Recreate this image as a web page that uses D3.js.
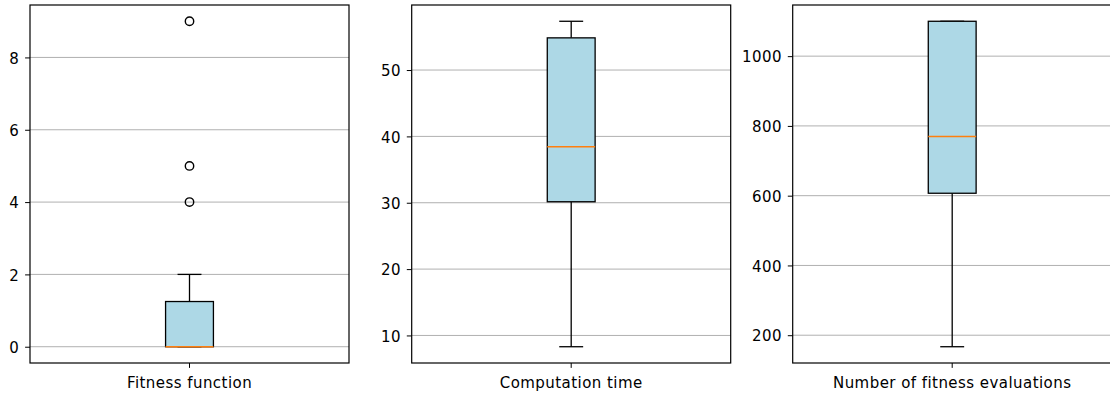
<!DOCTYPE html>
<html>
<head>
<meta charset="utf-8">
<script src="https://cdn.jsdelivr.net/npm/d3@7"></script>
<style>
  body { margin: 0; background: #fff; }
  text { font-family: 'DejaVu Sans', sans-serif; font-size: 15px; fill: #000; letter-spacing: 0.45px; }
</style>
</head>
<body>
<svg id="chart" width="1110" height="394"></svg>
<script>
// data: one box per panel
let categories = ['Fitness function', 'Computation time', 'Number of fitness evaluations']
let whiskerLow = [0, 8.3, 167]
let q1 = [0, 30.15, 607]
let median = [0, 38.45, 770]
let q3 = [1.25, 54.85, 1100]
let whiskerHigh = [2, 57.35, 1100]
let outliers = [[4, 5, 9], [], []]
let tickValues = [[0, 2, 4, 6, 8], [10, 20, 30, 40, 50], [200, 400, 600, 800, 1000]]

let panelLeft = [30, 411.7, 792.7]
let panelWidth = 319
let plotTop = 5
let plotBottom = 363
let tickLen = 4.9

let svg = d3.select('#chart')

categories.forEach((cat, i) => {
  let lo = Math.min(whiskerLow[i], ...outliers[i])
  let hi = Math.max(whiskerHigh[i], ...outliers[i])
  let pad = (hi - lo) * 0.05
  let y = d3.scaleLinear().domain([lo - pad, hi + pad]).range([plotBottom, plotTop])
  let x = d3.scaleBand().domain([cat]).range([0, panelWidth])

  let g = svg.append('g').attr('transform', 'translate(' + panelLeft[i] + ',0)')

  // grid
  g.append('g').selectAll('line').data(tickValues[i]).enter().append('line')
    .attr('x1', 0).attr('x2', panelWidth)
    .attr('y1', d => y(d)).attr('y2', d => y(d))
    .attr('stroke', '#b0b0b0').attr('stroke-width', 1)

  let cx = x(cat) + x.bandwidth() / 2
  let boxW = panelWidth * 0.15
  let capW = boxW / 2

  // whiskers
  g.append('line').attr('x1', cx).attr('x2', cx)
    .attr('y1', y(q1[i])).attr('y2', y(whiskerLow[i]))
    .attr('stroke', '#000').attr('stroke-width', 1.3)
  g.append('line').attr('x1', cx).attr('x2', cx)
    .attr('y1', y(q3[i])).attr('y2', y(whiskerHigh[i]))
    .attr('stroke', '#000').attr('stroke-width', 1.3)
  // caps
  ;[whiskerLow[i], whiskerHigh[i]].forEach(v => {
    g.append('line').attr('x1', cx - capW / 2).attr('x2', cx + capW / 2)
      .attr('y1', y(v)).attr('y2', y(v))
      .attr('stroke', '#000').attr('stroke-width', 1.3)
  })
  // box
  g.append('rect')
    .attr('x', cx - boxW / 2).attr('width', boxW)
    .attr('y', y(q3[i])).attr('height', Math.max(0, y(q1[i]) - y(q3[i])))
    .attr('fill', '#add8e6').attr('stroke', '#000').attr('stroke-width', 1.3)
  // median
  g.append('line').attr('x1', cx - boxW / 2).attr('x2', cx + boxW / 2)
    .attr('y1', y(median[i])).attr('y2', y(median[i]))
    .attr('stroke', '#ff7f0e').attr('stroke-width', 1.5)
  // fliers
  g.append('g').selectAll('circle').data(outliers[i]).enter().append('circle')
    .attr('cx', cx).attr('cy', d => y(d)).attr('r', 4.2)
    .attr('fill', 'none').attr('stroke', '#000').attr('stroke-width', 1.4)

  // axes
  let yAxis = d3.axisLeft(y).tickValues(tickValues[i]).tickFormat(d3.format('d'))
    .tickSize(tickLen).tickPadding(tickLen + 1).tickSizeOuter(0)
  let ay = g.append('g').call(yAxis)
  ay.select('.domain').remove()
  ay.selectAll('text').style('font-size', '15px').attr('fill', '#000').attr('dy', '0.38em')
  ay.selectAll('line').attr('stroke', '#000').attr('stroke-width', 1)

  let xAxis = d3.axisBottom(x).tickSize(tickLen).tickPadding(9).tickSizeOuter(0)
  let ax = g.append('g').attr('transform', 'translate(0,' + plotBottom + ')').call(xAxis)
  ax.select('.domain').remove()
  ax.selectAll('text').style('font-size', '15px').attr('fill', '#000')
  ax.selectAll('line').attr('stroke', '#000').attr('stroke-width', 1)

  // frame
  g.append('rect').attr('x', 0).attr('y', plotTop).attr('width', panelWidth).attr('height', plotBottom - plotTop)
    .attr('fill', 'none').attr('stroke', '#000').attr('stroke-width', 1.2)
})
</script>
</body>
</html>
